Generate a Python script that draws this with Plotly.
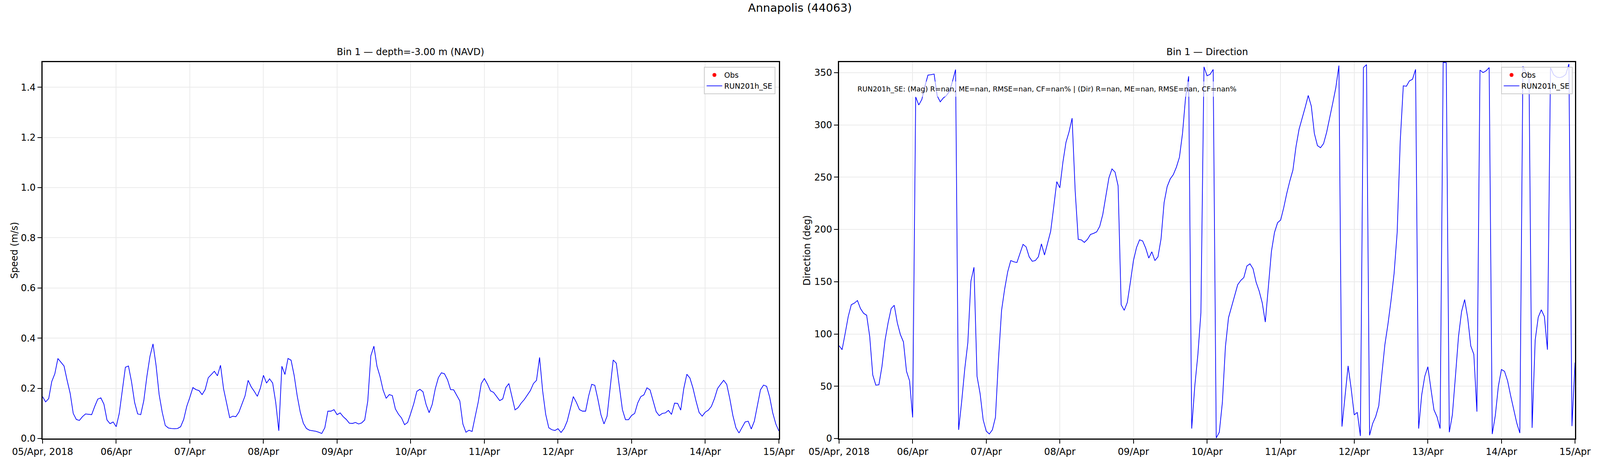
import pandas as pd
import plotly.graph_objects as go

# hourly model output, Annapolis (44063), bin 1
start_time = "2018-04-05 00:00"

speed = [
    0.167, 0.146, 0.159, 0.227, 0.258, 0.319, 0.304, 0.289, 0.232, 0.180, 0.100, 0.076,
    0.072, 0.087, 0.098, 0.096, 0.095, 0.128, 0.157, 0.162, 0.137, 0.074, 0.059, 0.066,
    0.047, 0.100, 0.190, 0.284, 0.289, 0.226, 0.144, 0.098, 0.095, 0.151, 0.247, 0.327,
    0.377, 0.291, 0.175, 0.105, 0.052, 0.042, 0.040, 0.039, 0.040, 0.047, 0.076, 0.128,
    0.164, 0.203, 0.195, 0.191, 0.175, 0.195, 0.242, 0.255, 0.268, 0.250, 0.292, 0.198,
    0.139, 0.083, 0.089, 0.087, 0.105, 0.139, 0.170, 0.232, 0.206, 0.188, 0.168, 0.201,
    0.252, 0.221, 0.238, 0.221, 0.144, 0.031, 0.288, 0.255, 0.319, 0.312, 0.252, 0.170,
    0.105, 0.061, 0.040, 0.033, 0.031, 0.029, 0.025, 0.020, 0.043, 0.109, 0.109, 0.115,
    0.095, 0.102, 0.087, 0.076, 0.061, 0.060, 0.064, 0.058, 0.062, 0.074, 0.149, 0.330,
    0.368, 0.288, 0.247, 0.193, 0.160, 0.175, 0.171, 0.118, 0.097, 0.082, 0.055, 0.064,
    0.100, 0.139, 0.188, 0.196, 0.186, 0.136, 0.103, 0.136, 0.198, 0.242, 0.262, 0.258,
    0.234, 0.195, 0.194, 0.172, 0.150, 0.058, 0.025, 0.033, 0.028, 0.087, 0.145, 0.219,
    0.239, 0.217, 0.190, 0.184, 0.168, 0.151, 0.158, 0.203, 0.219, 0.165, 0.114, 0.123,
    0.141, 0.155, 0.172, 0.191, 0.219, 0.232, 0.323, 0.190, 0.096, 0.043, 0.035, 0.032,
    0.039, 0.024, 0.040, 0.069, 0.118, 0.167, 0.144, 0.115, 0.109, 0.109, 0.170, 0.216,
    0.212, 0.157, 0.095, 0.058, 0.089, 0.199, 0.313, 0.300, 0.208, 0.115, 0.075, 0.075,
    0.092, 0.100, 0.142, 0.167, 0.174, 0.202, 0.194, 0.151, 0.107, 0.091, 0.100, 0.102,
    0.112, 0.096, 0.141, 0.140, 0.113, 0.199, 0.256, 0.241, 0.201, 0.149, 0.104, 0.089,
    0.105, 0.113, 0.128, 0.159, 0.199, 0.216, 0.232, 0.216, 0.159, 0.092, 0.043, 0.022,
    0.043, 0.066, 0.069, 0.038, 0.069, 0.133, 0.194, 0.213, 0.208, 0.165, 0.102, 0.058,
    0.030,
]

direction = [
    88.8, 85.0, 100.5, 116.7, 128.0, 129.5, 132.0, 124.3, 119.8, 117.9, 97.6, 60.7,
    51.0, 51.4, 69.0, 94.0, 110.7, 124.3, 127.4, 110.7, 99.5, 92.4, 64.3, 55.2,
    20.2, 326.7, 319.0, 324.3, 337.0, 347.6, 348.0, 348.6, 327.9, 322.0, 325.7, 328.0,
    332.0, 341.7, 352.9, 8.3, 35.7, 66.7, 91.7, 150.5, 163.8, 59.5, 42.9, 17.9,
    7.1, 4.3, 8.3, 20.2, 76.2, 122.6, 142.9, 159.5, 170.2, 169.0, 168.3, 177.4,
    185.7, 183.3, 173.8, 169.5, 170.2, 173.8, 186.2, 175.5, 186.9, 198.1, 221.4, 245.7,
    239.8, 264.3, 283.3, 293.3, 306.4, 236.9, 190.5, 190.0, 187.6, 190.5, 195.2, 196.2,
    197.6, 202.9, 214.3, 232.1, 249.3, 257.9, 254.8, 241.7, 127.9, 122.6, 130.2, 149.5,
    170.2, 182.6, 190.0, 189.0, 182.1, 172.6, 178.6, 170.2, 173.8, 191.0, 225.7, 241.0,
    248.3, 252.4, 259.5, 269.0, 291.7, 326.2, 346.4, 9.5, 50.0, 79.8, 120.2, 355.5,
    347.0, 348.3, 353.0, 0.5, 6.0, 34.5, 88.0, 115.5, 126.2, 137.4, 147.1, 151.2,
    154.0, 165.0, 167.1, 162.4, 149.5, 141.0, 129.8, 111.4, 144.0, 179.0, 197.1, 206.4,
    209.0, 220.7, 234.5, 246.4, 256.7, 279.0, 295.7, 306.0, 316.7, 328.1, 317.9, 291.7,
    280.2, 278.1, 282.1, 292.9, 306.7, 321.0, 335.7, 356.7, 11.4, 40.5, 69.5, 47.6,
    22.6, 25.0, 2.4, 354.8, 357.6, 3.1, 14.3, 21.0, 31.4, 61.4, 90.0, 109.5,
    132.1, 158.0, 197.1, 284.5, 337.4, 336.9, 342.1, 343.6, 353.1, 9.5, 41.7, 59.5,
    68.6, 47.6, 27.4, 20.7, 9.5, 359.8, 359.5, 6.0, 22.6, 59.5, 97.6, 121.4,
    132.9, 115.5, 88.6, 80.5, 25.7, 352.4, 350.0, 351.7, 354.8, 4.3, 21.9, 50.0,
    66.0, 64.3, 55.2, 41.0, 27.4, 14.8, 5.2, 356.0, 350.0, 345.0, 10.2, 94.0,
    116.0, 123.1, 116.7, 85.0, 354.8, 348.1, 345.7, 345.2, 346.0, 348.3, 358.3, 11.9,
    72.6,
]

# no valid observations in this window (stats are all nan)
obs_time = ["2018-04-05 00:00"]
obs_speed = [None]
obs_direction = [None]

tick_days = ["2018-04-%02d" % d for d in range(5, 16)]
tick_labels = ["05/Apr, 2018", "06/Apr", "07/Apr", "08/Apr", "09/Apr", "10/Apr",
               "11/Apr", "12/Apr", "13/Apr", "14/Apr", "15/Apr"]

stats_text = ("RUN201h_SE: (Mag) R=nan, ME=nan, RMSE=nan, CF=nan% | "
              "(Dir) R=nan, ME=nan, RMSE=nan, CF=nan%")

times = pd.date_range(start_time, periods=len(speed), freq="h")

FONT = "DejaVu Sans"
W, H = 4096, 1200   # the browser page is 4096 wide; body margin removed below
SX = W / 5000       # reference pixels -> page pixels (horizontal)


def px(x):
    # reference x pixel -> paper fraction
    return x * SX / W


def py(y):
    # reference y pixel -> paper fraction
    return 1 - y / H


fig = go.Figure()

fig.add_trace(go.Scatter(x=obs_time, y=obs_speed, mode="markers", name="Obs",
                         marker=dict(color="red", size=10), xaxis="x", yaxis="y",
                         legend="legend"))
fig.add_trace(go.Scatter(x=times, y=speed, mode="lines", name="RUN201h_SE",
                         line=dict(color="blue", width=1.8), xaxis="x", yaxis="y",
                         legend="legend"))
fig.add_trace(go.Scatter(x=obs_time, y=obs_direction, mode="markers", name="Obs",
                         marker=dict(color="red", size=10), xaxis="x2", yaxis="y2",
                         legend="legend2"))
fig.add_trace(go.Scatter(x=times, y=direction, mode="lines", name="RUN201h_SE",
                         line=dict(color="blue", width=1.8), xaxis="x2", yaxis="y2",
                         legend="legend2"))

tick_font = dict(size=24, color="black", family=FONT)
axis_common = dict(showgrid=True, gridcolor="#ebebeb", gridwidth=2,
                   showline=True, linecolor="black", linewidth=2.5, mirror=True,
                   ticks="outside", ticklen=10, tickwidth=2, tickcolor="black",
                   tickfont=tick_font, zeroline=False, automargin=False)
xcommon = dict(type="date", range=[tick_days[0], tick_days[-1]],
               tickmode="array", tickvals=tick_days, ticktext=tick_labels,
               **axis_common)

left_dom = [px(133), px(2434)]
right_dom = [px(2622), px(4922)]
y_dom = [py(1122), py(159)]

legend_style = dict(bgcolor="rgba(255,255,255,0.8)", bordercolor="#cccccc", borderwidth=2,
                    font=dict(size=19, color="black", family=FONT),
                    xanchor="right", yanchor="top", y=py(171), itemwidth=40,
                    tracegroupgap=0)

fig.update_layout(
    width=W, height=H,
    margin=dict(l=0, r=0, t=0, b=0),
    paper_bgcolor="white", plot_bgcolor="white",
    font=dict(family=FONT, color="black"),
    title=dict(text="Annapolis (44063)", x=0.5, xanchor="center", y=py(20),
               yanchor="middle", font=dict(size=29, family=FONT, color="black")),
    xaxis=dict(domain=left_dom, anchor="y", **xcommon),
    yaxis=dict(domain=y_dom, anchor="x", range=[0, 1.5], dtick=0.2, tickformat=".1f",
               **axis_common),
    xaxis2=dict(domain=right_dom, anchor="y2", **xcommon),
    yaxis2=dict(domain=y_dom, anchor="x2", range=[0, 360], dtick=50, **axis_common),
    legend=dict(x=px(2423), **legend_style),
    legend2=dict(x=px(4914), **legend_style),
    showlegend=True,
)

# subplot titles, y labels and the skill-score box
fig.add_annotation(text="Bin 1 \u2014 depth=-3.00 m (NAVD)", xref="paper", yref="paper",
                   x=sum(left_dom) / 2, y=py(133), showarrow=False,
                   xanchor="center", yanchor="middle", font=dict(size=24))
fig.add_annotation(text="Bin 1 \u2014 Direction", xref="paper", yref="paper",
                   x=sum(right_dom) / 2, y=py(133), showarrow=False,
                   xanchor="center", yanchor="middle", font=dict(size=24))
fig.add_annotation(text="Speed (m/s)", xref="paper", yref="paper", x=px(45),
                   y=sum(y_dom) / 2, textangle=-90, showarrow=False,
                   xanchor="center", yanchor="middle", font=dict(size=24))
fig.add_annotation(text="Direction (deg)", xref="paper", yref="paper", x=px(2521),
                   y=sum(y_dom) / 2, textangle=-90, showarrow=False,
                   xanchor="center", yanchor="middle", font=dict(size=24))
fig.add_annotation(text=stats_text, xref="x2 domain", yref="y2 domain",
                   x=0.02, y=0.928, showarrow=False, xanchor="left", yanchor="middle",
                   bgcolor="rgba(255,255,255,0.6)", borderpad=8,
                   font=dict(size=18, family=FONT, color="black"))

fig.write_html("out.html", config={"displayModeBar": False},
               post_script="document.body.style.margin = '0';")
